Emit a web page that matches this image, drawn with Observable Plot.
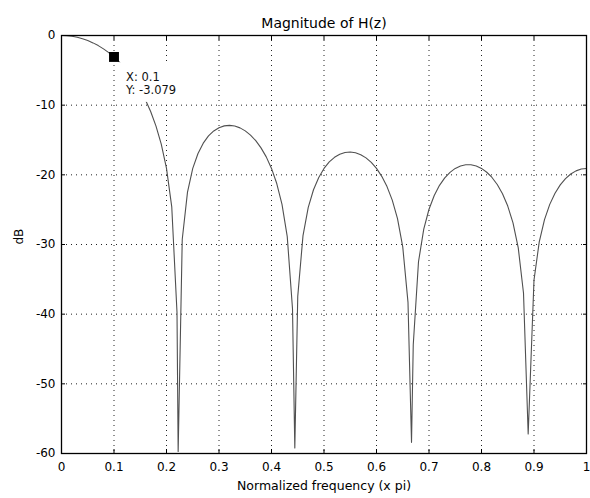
<!DOCTYPE html>
<html>
<head>
<meta charset="utf-8">
<script src="https://cdn.jsdelivr.net/npm/d3@7"></script>
<script src="https://cdn.jsdelivr.net/npm/@observablehq/plot@0.6"></script>
<style>
  html, body { margin: 0; padding: 0; background: #fff; }
  #chart svg { font-family: "DejaVu Sans", sans-serif; display: block; }
</style>
</head>
<body>
<div id="chart"></div>
<script>
// ---- data ----
const freq = [
  0, 0.01, 0.02, 0.03, 0.04, 0.05, 0.06, 0.07, 0.08, 0.09,
  0.10, 0.11, 0.12, 0.13, 0.14, 0.15, 0.16, 0.17, 0.18, 0.19,
  0.20, 0.21, 0.22, 0.2222, 0.23, 0.24, 0.25, 0.26, 0.27, 0.28, 0.29,
  0.30, 0.31, 0.32, 0.33, 0.34, 0.35, 0.36, 0.37, 0.38, 0.39,
  0.40, 0.41, 0.42, 0.43, 0.44, 0.4444, 0.45, 0.46, 0.47, 0.48, 0.49,
  0.50, 0.51, 0.52, 0.53, 0.54, 0.55, 0.56, 0.57, 0.58, 0.59,
  0.60, 0.61, 0.62, 0.63, 0.64, 0.65, 0.66, 0.6667, 0.67, 0.68, 0.69,
  0.70, 0.71, 0.72, 0.73, 0.74, 0.75, 0.76, 0.77, 0.78, 0.79,
  0.80, 0.81, 0.82, 0.83, 0.84, 0.85, 0.86, 0.87, 0.88, 0.8889, 0.89,
  0.90, 0.91, 0.92, 0.93, 0.94, 0.95, 0.96, 0.97, 0.98, 0.99, 1.00
];
const magDb = [
  0, -0.03, -0.11, -0.26, -0.46, -0.73, -1.06, -1.45, -1.92, -2.46,
  -3.08, -3.79, -4.61, -5.54, -6.61, -7.83, -9.26, -10.95, -13.00, -15.59,
  -19.08, -24.59, -39.74, -59.7, -29.25, -22.49, -19.08, -16.93, -15.45, -14.41, -13.70,
  -13.23, -12.97, -12.90, -13.00, -13.26, -13.69, -14.30, -15.10, -16.13, -17.42,
  -19.08, -21.25, -24.24, -28.87, -39.22, -59.2, -37.44, -28.72, -24.68, -22.14, -20.37,
  -19.08, -18.15, -17.49, -17.05, -16.80, -16.73, -16.84, -17.11, -17.57, -18.22,
  -19.08, -20.22, -21.69, -23.63, -26.30, -30.34, -38.31, -58.4, -44.40, -32.48, -27.80,
  -24.94, -22.96, -21.51, -20.43, -19.64, -19.08, -18.73, -18.56, -18.56, -18.73,
  -19.08, -19.63, -20.38, -21.39, -22.72, -24.48, -26.89, -30.48, -36.97, -57.2, -55.03,
  -35.09, -29.63, -26.43, -24.24, -22.64, -21.44, -20.54, -19.88, -19.43, -19.17, -19.08
];

const xTicks = [0, 0.1, 0.2, 0.3, 0.4, 0.5, 0.6, 0.7, 0.8, 0.9, 1];
const xTickLabels = ["0", "0.1", "0.2", "0.3", "0.4", "0.5", "0.6", "0.7", "0.8", "0.9", "1"];
const yTicks = [-60, -50, -40, -30, -20, -10, 0];
const yTickLabels = ["-60", "-50", "-40", "-30", "-20", "-10", "0"];
const gridX = [0.1, 0.2, 0.3, 0.4, 0.5, 0.6, 0.7, 0.8, 0.9];
const gridY = [-50, -40, -30, -20, -10];

const tipX = [0.1];
const tipY = [-3.079];
const tipLines = ["X: 0.1", "Y: -3.079"];
const tipBoxX = [0.109, 0.21];
const tipBoxY = [-3.9, -9.6];

const titleText = "Magnitude of H(z)";
const xLabelText = "Normalized frequency (x pi)";
const yLabelText = "dB";

// ---- build tables ----
const curve = freq.map((f, i) => ({f, db: magDb[i]}));
const tip = tipX.map((x, i) => ({x, y: tipY[i]}));
const tipBox = [{x1: tipBoxX[0], x2: tipBoxX[1], y1: tipBoxY[0], y2: tipBoxY[1]}];
const xLab = new Map(xTicks.map((t, i) => [t, xTickLabels[i]]));
const yLab = new Map(yTicks.map((t, i) => [t, yTickLabels[i]]));

const gridStyle = {stroke: "#222", strokeWidth: 1, strokeDasharray: "1,4"};

const chart = Plot.plot({
  width: 590,
  height: 498,
  marginTop: 35,
  marginBottom: 45,
  marginLeft: 61,
  marginRight: 4,
  style: {fontFamily: "DejaVu Sans, sans-serif", fontSize: "12px", background: "white", color: "black"},
  x: {domain: [0, 1], label: null, axis: null},
  y: {domain: [-60, 0], label: null, axis: null},
  marks: [
    Plot.ruleX(gridX, gridStyle),
    Plot.ruleY(gridY, gridStyle),
    Plot.line(curve, {x: "f", y: "db", stroke: "#505050", strokeWidth: 1.1}),
    Plot.rect(tipBox, {x1: "x1", x2: "x2", y1: "y1", y2: "y2", fill: "white"}),
    Plot.dot(tip, {x: "x", y: "y", symbol: "square", r: 5.6, fill: "black", stroke: null}),
    Plot.text(tip, {x: "x", y: "y", text: () => tipLines.join("\n"), textAnchor: "start", lineAnchor: "top",
      dx: 12, dy: 15, fontSize: 11.5, lineHeight: 1.13, fill: "#111"}),
    Plot.frame({stroke: "black", strokeWidth: 1.3}),
    Plot.axisX(xTicks, {anchor: "bottom", tickSize: -4, tickPadding: 13, tickFormat: d => xLab.get(d), fontSize: 12, label: null}),
    Plot.axisX(xTicks, {anchor: "top", tickSize: -4, tickFormat: () => "", label: null}),
    Plot.axisY(yTicks, {anchor: "left", tickSize: -4, tickPadding: 10, tickFormat: d => yLab.get(d), fontSize: 12, label: null}),
    Plot.axisY(yTicks, {anchor: "right", tickSize: -4, tickFormat: () => "", label: null}),
    Plot.text([titleText], {frameAnchor: "top", dy: -17, fontSize: 14, text: d => d}),
    Plot.text([xLabelText], {frameAnchor: "bottom", dy: 36, fontSize: 12.5, text: d => d}),
    Plot.text([yLabelText], {frameAnchor: "left", dx: -42, rotate: -90, fontSize: 12, text: d => d})
  ]
});
document.getElementById("chart").appendChild(chart);
</script>
</body>
</html>
